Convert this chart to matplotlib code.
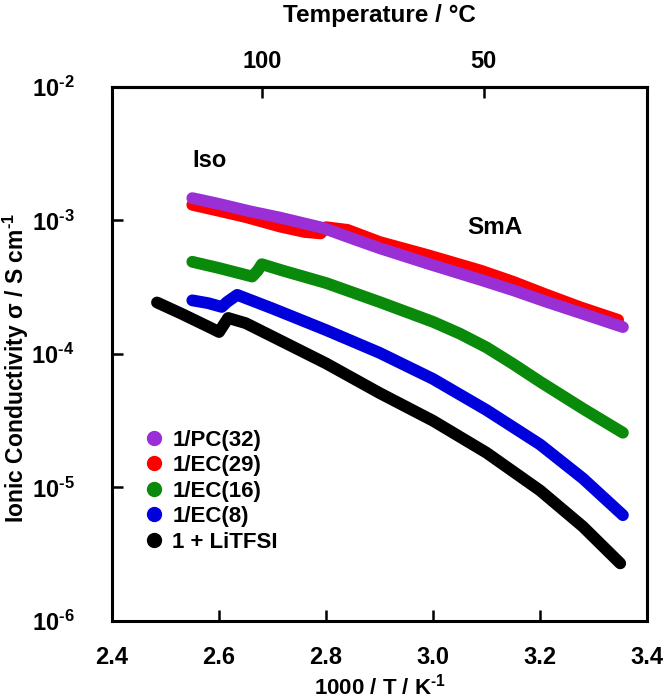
import matplotlib
matplotlib.use("Agg")
import matplotlib.pyplot as plt
from matplotlib.lines import Line2D

# ── Fonts ─────────────────────────────────────────────
plt.rcParams['font.family'] = ['Liberation Sans', 'DejaVu Sans']
plt.rcParams['font.weight'] = 'bold'
plt.rcParams['mathtext.fontset'] = 'custom'
plt.rcParams['mathtext.rm'] = 'Liberation Sans:bold'
plt.rcParams['mathtext.bf'] = 'Liberation Sans:bold'
plt.rcParams['mathtext.it'] = 'Liberation Sans:italic:bold'
plt.rcParams['mathtext.default'] = 'rm'

# ── Data ──────────────────────────────────────────────
pc32_x = [2.55, 2.60, 2.658, 2.714, 2.794, 2.85, 2.90, 2.994, 3.088, 3.15, 3.213, 3.28, 3.355]
pc32_y = [1.47e-3, 1.33e-3, 1.17e-3, 1.05e-3, 8.8e-4, 7.3e-4, 6.2e-4, 4.7e-4, 3.6e-4, 3.0e-4, 2.45e-4, 2.0e-4, 1.59e-4]

ec29_x = [2.55, 2.60, 2.65, 2.714, 2.76, 2.79, 2.80, 2.84, 2.90, 2.99, 3.09, 3.15, 3.21, 3.275, 3.346]
ec29_y = [1.31e-3, 1.18e-3, 1.06e-3, 9.0e-4, 8.2e-4, 8.0e-4, 8.9e-4, 8.5e-4, 6.9e-4, 5.5e-4, 4.2e-4, 3.47e-4, 2.8e-4, 2.24e-4, 1.8e-4]

ec16_x = [2.55, 2.60, 2.662, 2.672, 2.68, 2.72, 2.80, 2.90, 3.00, 3.05, 3.10, 3.15, 3.20, 3.28, 3.355]
ec16_y = [4.9e-4, 4.4e-4, 3.8e-4, 4.2e-4, 4.7e-4, 4.2e-4, 3.4e-4, 2.45e-4, 1.74e-4, 1.42e-4, 1.12e-4, 8.4e-5, 6.2e-5, 3.9e-5, 2.57e-5]

ec8_x = [2.55, 2.58, 2.605, 2.615, 2.634, 2.70, 2.80, 2.90, 3.00, 3.10, 3.20, 3.28, 3.355]
ec8_y = [2.52e-4, 2.4e-4, 2.25e-4, 2.45e-4, 2.77e-4, 2.19e-4, 1.51e-4, 1.02e-4, 6.5e-5, 3.8e-5, 2.1e-5, 1.17e-5, 6.2e-6]

litfsi_x = [2.484, 2.53, 2.58, 2.60, 2.617, 2.65, 2.70, 2.80, 2.90, 3.00, 3.10, 3.20, 3.28, 3.35]
litfsi_y = [2.43e-4, 2.0e-4, 1.6e-4, 1.46e-4, 1.86e-4, 1.7e-4, 1.35e-4, 8.5e-5, 5.1e-5, 3.16e-5, 1.82e-5, 9.5e-6, 5.1e-6, 2.7e-6]

labels = ['1/PC(32)', '1/EC(29)', '1/EC(16)', '1/EC(8)', '1 + LiTFSI']
colors = ['#9a2fd6', '#ff0000', '#0a8a0a', '#0000dd', '#000000']

x_ticks = [2.4, 2.6, 2.8, 3.0, 3.2, 3.4]
y_ticks = [1e-6, 1e-5, 1e-4, 1e-3, 1e-2]
y_ticklabels = ['$10^{\\text{-6}}$', '$10^{\\text{-5}}$', '$10^{\\text{-4}}$',
                '$10^{\\text{-3}}$', '$10^{\\text{-2}}$']
top_ticks_c = [100, 50]

# ── Plot ──────────────────────────────────────────────
fig = plt.figure(figsize=(6.67, 7.0), dpi=100)
ax = fig.add_axes([0.168, 0.1129, 0.802, 0.7629])

series = [(pc32_x, pc32_y), (ec29_x, ec29_y), (ec16_x, ec16_y), (ec8_x, ec8_y), (litfsi_x, litfsi_y)]
# back to front, purple ends on top
for i in [4, 3, 2, 1, 0]:
    xs, ys = series[i]
    ax.plot(xs, ys, color=colors[i], lw=8.5, solid_capstyle='round',
            solid_joinstyle='round', zorder=3 + (4 - i))

ax.set_yscale('log')
ax.set_xlim(2.4, 3.4)
ax.set_ylim(1e-6, 1e-2)
ax.set_xticks(x_ticks)
ax.set_xticklabels([f"{v:.1f}" for v in x_ticks])
ax.set_yticks(y_ticks)
ax.set_yticklabels(y_ticklabels)
ax.minorticks_off()
ax.tick_params(axis='both', direction='in', length=8, width=1.8, labelsize=17)
ax.tick_params(axis='x', pad=18)
ax.tick_params(axis='y', pad=27)
for sp in ax.spines.values():
    sp.set_linewidth(2.2)

ax.set_xlabel('1000 / $T$ / K$^{\\text{-1}}$', fontsize=16, fontweight='bold', labelpad=3)
ax.set_ylabel('Ionic Conductivity $\\sigma$ / S cm$^{\\text{-1}}$', fontsize=16.5,
              fontweight='bold')
ax.yaxis.set_label_coords(-0.152, 0.474)

# top axis in °C
top = ax.secondary_xaxis('top', functions=(lambda x: 1000.0 / x - 273.15,
                                           lambda t: 1000.0 / (t + 273.15)))
top.set_xticks(top_ticks_c)
top.set_xticklabels([str(t) for t in top_ticks_c])
top.tick_params(direction='in', length=8, width=1.8, labelsize=17, pad=10)
top.spines['top'].set_linewidth(2.2)
top.set_xlabel('Temperature / °C', fontsize=17.5, fontweight='bold', labelpad=20)

ax.text(2.55, 2.8e-3, 'Iso', fontsize=17, fontweight='bold', ha='left', va='center')
ax.text(3.116, 8.8e-4, 'SmA', fontsize=17.5, fontweight='bold', ha='center', va='center')

handles = [Line2D([], [], marker='o', ls='none', color=c, markersize=10) for c in colors]
ax.legend(handles, labels, loc='upper left', bbox_to_anchor=(0.063, 0.358),
          frameon=False, fontsize=16, handlelength=0.7, handletextpad=0.5,
          labelspacing=0.2, borderpad=0, borderaxespad=0)

fig.savefig('out.png', dpi=100)
